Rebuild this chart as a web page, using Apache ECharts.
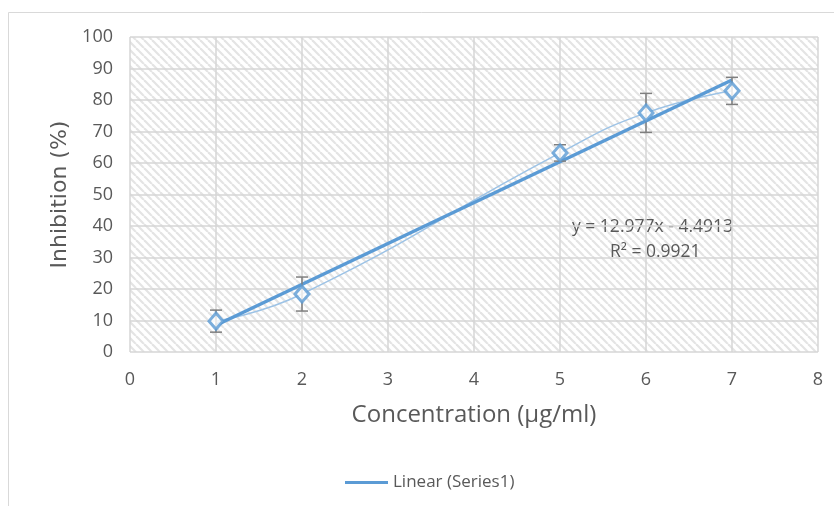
<!DOCTYPE html>
<html>
<head>
<meta charset="utf-8">
<script src="https://cdn.jsdelivr.net/npm/echarts@6/dist/echarts.min.js"></script>
<style>
  html, body { margin: 0; padding: 0; background: #fff; }
  #chart { width: 834px; height: 506px; }
</style>
</head>
<body>
<div id="chart"></div>
<script>
// Data
const concentration = [1, 2, 5, 6, 7];
const inhibition = [9.8, 18.4, 63.2, 75.9, 82.9];
const errorSize = [3.5, 5.4, 2.6, 6.2, 4.3];
// trendline end points (from the shown fit y = 12.977x - 4.4913)
const trendX = [1, 7];
const trendY = [8.49, 86.35];
const equationText = ['y = 12.977x - 4.4913', 'R² = 0.9921'];

const textGrey = '#595959';
const blue = '#5b9bd5';

// hatched plot area fill
function makeHatch() {
    const tile = document.createElement('canvas');
    tile.width = 8;
    tile.height = 8;
    const ctx = tile.getContext('2d');
    ctx.fillStyle = '#ffffff';
    ctx.fillRect(0, 0, 8, 8);
    ctx.strokeStyle = '#e4e4e4';
    ctx.lineWidth = 2.2;
    [-8, 0, 8].forEach(k => {
        ctx.beginPath();
        ctx.moveTo(k, 0);
        ctx.lineTo(k + 8, 8);
        ctx.stroke();
    });
    return tile;
}

const chart = echarts.init(document.getElementById('chart'));

const points = concentration.map((x, i) => [x, inhibition[i]]);
const errData = concentration.map((x, i) => [x, inhibition[i] - errorSize[i], inhibition[i] + errorSize[i]]);
const trendData = trendX.map((x, i) => [x, trendY[i]]);

const option = {
    backgroundColor: '#fff',
    animation: false,
    textStyle: { fontFamily: 'Open Sans' },
    grid: {
        left: 130,
        right: 16,
        top: 37,
        bottom: 154,
        show: true,
        borderWidth: 0,
        backgroundColor: { image: makeHatch(), repeat: 'repeat' }
    },
    legend: {
        data: [{ name: 'Linear (Series1)', icon: 'rect' }],
        left: 340,
        top: 469,
        itemWidth: 43,
        itemHeight: 3,
        itemGap: 6,
        textStyle: { color: textGrey, fontSize: 17, fontFamily: 'Open Sans' }
    },
    xAxis: {
        type: 'value',
        min: 0,
        max: 8,
        interval: 1,
        name: 'Concentration (µg/ml)',
        nameLocation: 'middle',
        nameGap: 51,
        nameTextStyle: { color: textGrey, fontSize: 24, fontFamily: 'Open Sans' },
        axisLine: { show: false },
        axisTick: { show: false },
        axisLabel: { color: textGrey, fontSize: 18, margin: 19 },
        splitLine: { show: true, lineStyle: { color: '#d6d6d6', width: 1.5 } }
    },
    yAxis: {
        type: 'value',
        min: 0,
        max: 100,
        interval: 10,
        name: 'Inhibition (%)',
        nameLocation: 'middle',
        nameGap: 59,
        nameTextStyle: { color: textGrey, fontSize: 22, fontFamily: 'DejaVu Sans' },
        axisLine: { show: false },
        axisTick: { show: false },
        axisLabel: { color: textGrey, fontSize: 18, margin: 17 },
        splitLine: { show: true, lineStyle: { color: '#d6d6d6', width: 1.5 } }
    },
    graphic: [
        {
            type: 'rect',
            shape: { x: 8.5, y: 12.5, width: 900, height: 600 },
            style: { fill: 'none', stroke: '#d9d9d9', lineWidth: 1 },
            silent: true
        },
        {
            type: 'text',
            left: 572,
            top: 218,
            style: { text: equationText[0], fill: textGrey, font: '17.5px "Open Sans"' }
        },
        {
            type: 'text',
            left: 610,
            top: 243,
            style: { text: equationText[1], fill: textGrey, font: '17.5px "Open Sans"' }
        }
    ],
    series: [
        {
            name: 'smooth',
            type: 'line',
            data: points,
            smooth: true,
            symbol: 'none',
            lineStyle: { color: '#9dc3e6', width: 1.5 },
            z: 2
        },
        {
            name: 'Linear (Series1)',
            type: 'line',
            data: trendData,
            symbol: 'none',
            lineStyle: { color: blue, width: 3.5 },
            itemStyle: { color: blue },
            z: 3
        },
        {
            name: 'errors',
            type: 'custom',
            data: errData,
            z: 4,
            renderItem: function (params, api) {
                const x = api.value(0);
                const lo = api.coord([x, api.value(1)]);
                const hi = api.coord([x, api.value(2)]);
                const half = 6;
                const style = { stroke: '#7f7f7f', lineWidth: 1.5 };
                return {
                    type: 'group',
                    children: [
                        { type: 'line', shape: { x1: lo[0], y1: lo[1], x2: hi[0], y2: hi[1] }, style: style },
                        { type: 'line', shape: { x1: lo[0] - half, y1: lo[1], x2: lo[0] + half, y2: lo[1] }, style: style },
                        { type: 'line', shape: { x1: hi[0] - half, y1: hi[1], x2: hi[0] + half, y2: hi[1] }, style: style }
                    ]
                };
            }
        },
        {
            name: 'Series1',
            type: 'scatter',
            data: points,
            symbol: 'diamond',
            symbolSize: [14, 16],
            itemStyle: { color: '#fff', borderColor: blue, borderWidth: 3 },
            z: 5
        }
    ]
};

chart.setOption(option);
</script>
</body>
</html>
